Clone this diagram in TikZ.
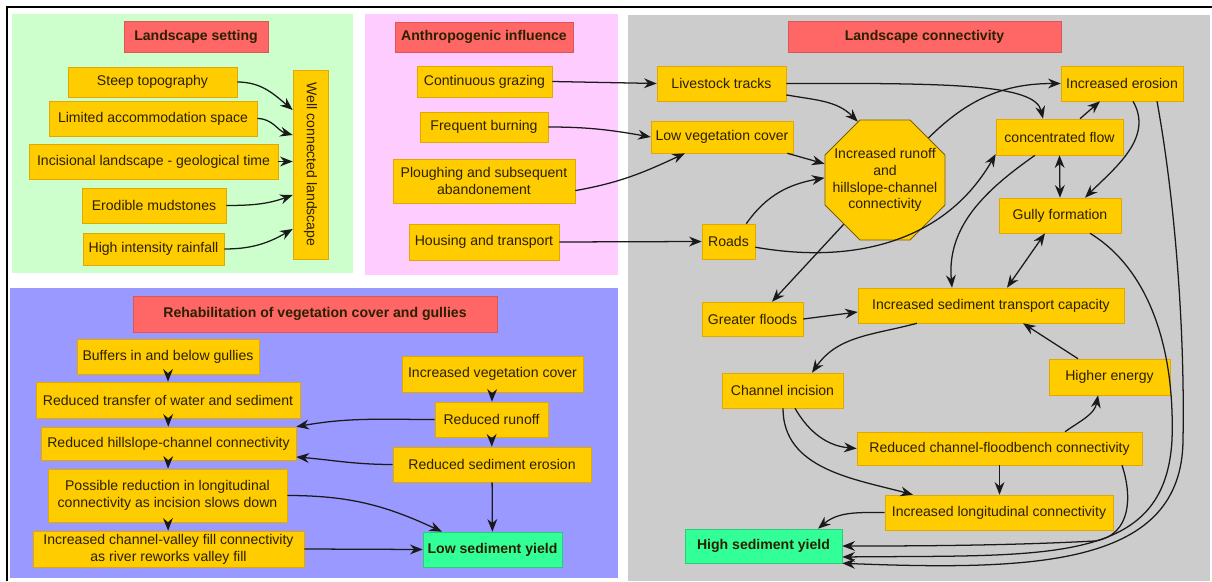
\documentclass[tikz,border=0pt]{standalone}
\usepackage{fontspec}
\setmainfont{Liberation Sans}
\usepackage{tikz}
\usetikzlibrary{shapes.geometric,arrows.meta,positioning,calc}
\definecolor{boxyellow}{HTML}{FFCC00}
\definecolor{boxedge}{HTML}{E0A800}
\definecolor{octedge}{HTML}{7A6000}
\definecolor{headred}{HTML}{FF6666}
\definecolor{yieldgreen}{HTML}{33FF99}
\definecolor{greenpanel}{HTML}{CCFFCC}
\definecolor{pinkpanel}{HTML}{FFCCFF}
\definecolor{graypanel}{HTML}{CCCCCC}
\definecolor{bluepanel}{HTML}{9999FF}
\definecolor{textcol}{HTML}{2B2000}
\definecolor{linecol}{HTML}{1A1A1A}

\begin{document}
\begin{tikzpicture}[x=0.025cm,y=0.025cm,font=\fontsize{10}{12}\selectfont,>={Stealth[length=9pt,width=7pt]},
  box/.style={fill=boxyellow,draw=boxedge,line width=0.4pt,text=textcol,inner sep=1pt,align=center,minimum height=0.875cm},
  headbox/.style={box,fill=headred,draw=headred!85!black,font=\fontsize{10}{12}\selectfont\bfseries},
  yieldbox/.style={box,fill=yieldgreen,draw=yieldgreen!80!black,font=\fontsize{10}{12}\selectfont\bfseries},
  link/.style={->,line width=0.9pt,draw=linecol}]
\useasboundingbox (0,0) rectangle (1212,581);
\fill[greenpanel] (12,308) rectangle (353,567);
\fill[pinkpanel] (365,306) rectangle (618,567);
\fill[graypanel] (628,0) rectangle (1210,566);
\fill[bluepanel] (10,3) rectangle (618,293);
\draw[line width=1.4pt] (7,0) |- (1212,574);

\node[headbox,minimum width=3.6cm,minimum height=0.775cm] (settitle) at (196,544.5) {Landscape setting};
\node[box,minimum width=4.225cm,minimum height=0.75cm] (steep) at (152.5,499) {Steep topography};
\node[box,minimum width=5.2cm] (space) at (153,462.5) {Limited accommodation space};
\node[box,minimum width=6.225cm] (incis) at (153.5,419.5) {Incisional landscape - geological time};
\node[box,minimum width=3.6cm] (mud) at (154,375.5) {Erodible mudstones};
\node[box,minimum width=3.525cm,minimum height=0.8cm] (rain) at (153.5,332) {High intensity rainfall};
\node[box,rotate=-90,minimum width=4.725cm] (wellcon) at (310.5,416.5) {Well connected landscape};

\node[headbox,minimum width=4.45cm,minimum height=0.75cm] (humtitle) at (484,544) {Anthropogenic influence};
\node[box,minimum width=3.375cm,minimum height=0.775cm] (grazing) at (484.5,499.5) {Continuous grazing};
\node[box,minimum width=3.2cm,minimum height=0.75cm] (burning) at (484,454) {Frequent burning};
\node[box,minimum width=4.55cm,minimum height=1.1cm] (plough) at (484,400) {Ploughing and subsequent\\abandonement};
\node[box,minimum width=3.75cm,minimum height=0.9cm] (housing) at (484,339) {Housing and transport};

\node[headbox,minimum width=6.825cm,minimum height=0.775cm] (contitle) at (924.5,544.5) {Landscape connectivity};
\node[box,minimum width=3.225cm] (tracks) at (721.5,497.5) {Livestock tracks};
\node[box,minimum width=3.55cm,minimum height=0.8cm] (lowveg) at (722,444) {Low vegetation cover};
\node[box,shape=regular polygon,regular polygon sides=8,minimum size=3.25cm,inner sep=0pt,draw=octedge,line width=0.6pt,
  label={[align=center,text=textcol]center:Increased runoff\\and\\hillslope-channel\\connectivity}] (runoff) at (885,401) {};
\node[box,minimum width=1.325cm] (roads) at (728.5,339.5) {Roads};
\node[box,minimum width=3.05cm] (erosion) at (1122,497.5) {Increased erosion};
\node[box,minimum width=3.175cm,minimum height=0.9cm] (conflow) at (1059.5,444) {concentrated flow};
\node[box,minimum width=3.05cm] (gully) at (1060,365.5) {Gully formation};
\node[box,minimum width=2.525cm,minimum height=0.85cm] (floods) at (752.5,262) {Greater floods};
\node[box,minimum width=6.65cm] (transport) at (991,275.5) {Increased sediment transport capacity};
\node[box,minimum width=3.025cm] (incision) at (782.5,190.5) {Channel incision};
\node[box,minimum width=3.025cm,minimum height=0.9cm] (energy) at (1109.5,204) {Higher energy};
\node[box,minimum width=7.125cm,minimum height=0.825cm] (floodbench) at (999.5,132.5) {Reduced channel-floodbench connectivity};
\node[box,minimum width=5.7cm] (longcon) at (999,68.5) {Increased longitudinal connectivity};
\node[yieldbox,minimum width=3.925cm,minimum height=0.85cm] (highyield) at (763.5,35) {High sediment yield};

\node[headbox,minimum width=9.1cm,minimum height=0.9cm] (rehabtitle) at (315,267) {Rehabilitation of vegetation cover and gullies};
\node[box,minimum width=4.55cm] (buffers) at (168,224.5) {Buffers in and below gullies};
\node[box,minimum width=6.6cm,minimum height=0.9cm] (transfer) at (168,181) {Reduced transfer of water and sediment};
\node[box,minimum width=6.375cm,minimum height=0.825cm] (hillcon) at (168.5,137.5) {Reduced hillslope-channel connectivity};
\node[box,minimum width=5.975cm,minimum height=1.325cm] (slowdown) at (167.5,85.5) {Possible reduction in longitudinal\\connectivity as incision slows down};
\node[box,minimum width=6.775cm,minimum height=0.9cm] (rework) at (168.5,32) {Increased channel-valley fill connectivity\\as river reworks valley fill};
\node[box,minimum width=4.525cm,minimum height=0.9cm] (vegcover) at (492.5,207) {Increased vegetation cover};
\node[box,minimum width=2.825cm] (lessrunoff) at (491.5,161.5) {Reduced runoff};
\node[box,minimum width=4.95cm] (lesssed) at (492,116.5) {Reduced sediment erosion};
\node[yieldbox,minimum width=3.475cm] (lowyield) at (492.5,31.5) {Low sediment yield};

\draw[link] (steep.east) to[out=0,in=140] (wellcon.south |- 0,471);
\draw[link] (space.east) to[out=0,in=165] (wellcon.south |- 0,446);
\draw[link] (incis.east) -- (wellcon.south |- incis.east);
\draw[link] (mud.east) to[out=0,in=200] (wellcon.south |- 0,386);
\draw[link] (rain.east) to[out=0,in=210] (wellcon.south |- 0,352);

\draw[link] (grazing.east) -- (tracks.west);
\draw[link] (burning.east) to[out=0,in=170] (lowveg.west);
\draw[link] (plough.-6) to[out=10,in=205] (685,0 |- lowveg.south);
\draw[link] (housing.east) -- (roads.west);

\draw[link] (tracks.east) .. controls (950,498) and (1035,497) .. (1043,0 |- conflow.north);
\draw[link] (tracks.-10) to[out=-10,in=135] (runoff.115);
\draw[link] (lowveg.-14) -- (runoff.165);
\draw[link] (roads.45) to[out=55,in=190] (runoff.178);
\draw[link] (runoff.44) to[out=45,in=180] (erosion.west);
\draw[link] (roads.-12) to[out=-10,in=240] (conflow.195);
\draw[link] (runoff.227) -- (772,0 |- floods.north);
\draw[link] (floods.east) -- (transport.west |- 0,269);
\draw[link,<->] (conflow.south) -- (gully.north);
\draw[link] (1080,0 |- conflow.north) -- (1100,0 |- erosion.south);
\draw[link] (1133,0 |- erosion.south) to[out=-60,in=45] (1085,0 |- gully.north);
\draw[link] (1035,0 |- conflow.south) to[out=215,in=95] (952,0 |- transport.north);
\draw[link,<->] (1045,0 |- gully.south) -- (1007,0 |- transport.north);
\draw[link] (1090,0 |- gully.south) .. controls (1150,311) and (1175,231) .. (1172,141) .. controls (1165,16) and (1050,26) .. (highyield.east |- 0,24);
\draw[link] (1157,0 |- erosion.south) .. controls (1175,381) and (1185,251) .. (1183,141) .. controls (1182,16) and (1040,10) .. (highyield.south east);
\draw[link] (1122,0 |- floodbench.south) .. controls (1132,86) and (1132,46) .. (1095,40) .. controls (1000,35) and (900,35) .. (highyield.east);
\draw[link] (917,0 |- transport.south) to[out=195,in=55] (812,0 |- incision.north);
\draw[link] (1078,0 |- energy.north) -- (1023,0 |- transport.south);
\draw[link] (1065,0 |- floodbench.north) to[out=35,in=-100] (1098,0 |- energy.south);
\draw[link] (floodbench.south) -- (floodbench.south |- longcon.north);
\draw[link] (783,0 |- incision.south) to[out=-90,in=165] (913,0 |- longcon.north);
\draw[link] (795,0 |- incision.south) to[out=-60,in=175] (floodbench.west);
\draw[link] (longcon.west) to[out=180,in=40] (818,0 |- highyield.north);

\draw[link] (buffers) -- (transfer);
\draw[link] (transfer) -- (hillcon);
\draw[link] (hillcon) -- (slowdown);
\draw[link] (slowdown) -- (rework);
\draw[link] (vegcover) -- (lessrunoff);
\draw[link] (lessrunoff) -- (lesssed);
\draw[link] (lesssed) -- (lowyield);
\draw[link] (lessrunoff.west) to[out=180,in=10] (hillcon.north east);
\draw[link] (lesssed.west) to[out=180,in=-5] (hillcon.-6);
\draw[link] (slowdown.east) to[out=0,in=155] (442,0 |- lowyield.north);
\draw[link] (rework.east) -- (lowyield.west);
\end{tikzpicture}
\end{document}
